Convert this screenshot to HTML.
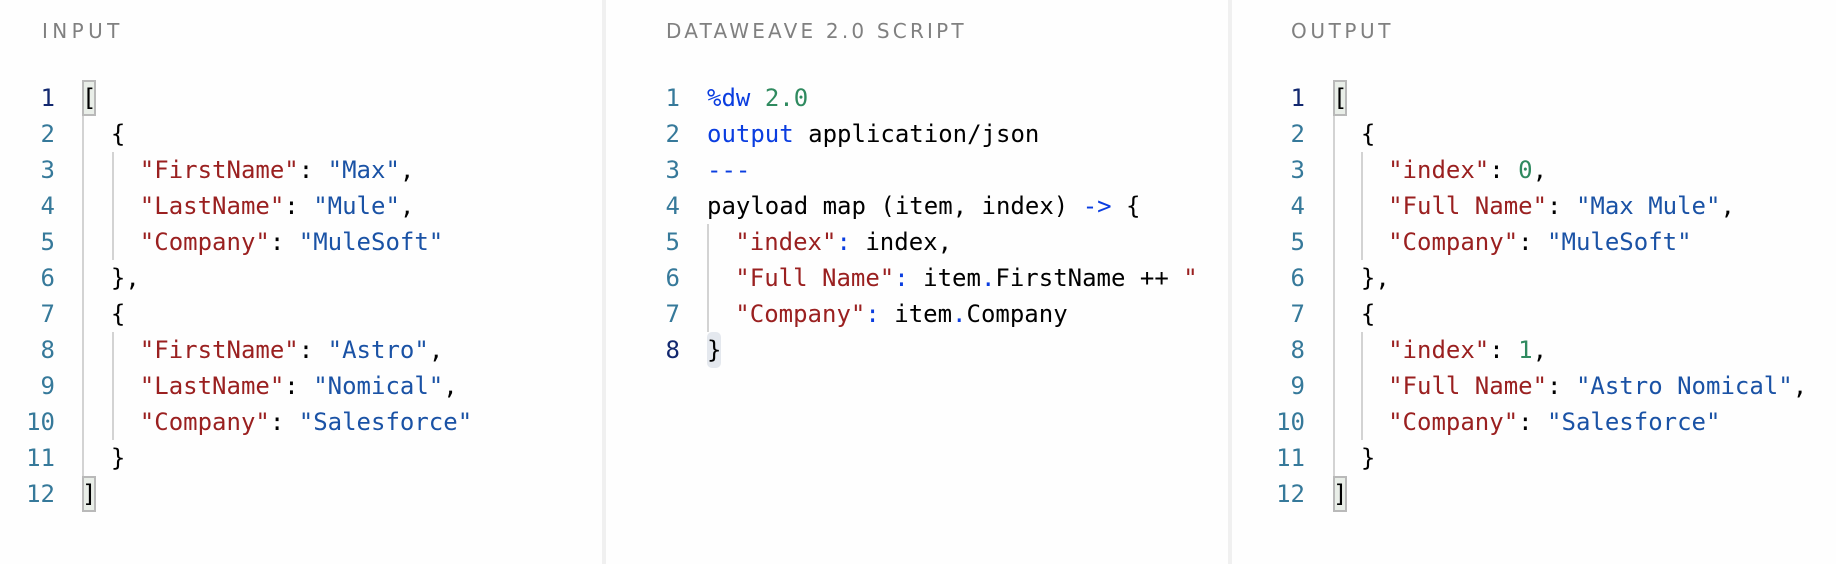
<!DOCTYPE html>
<html><head><meta charset="utf-8"><style>
html,body{margin:0;padding:0;width:1836px;height:564px;overflow:hidden;background:#fefefe}
#r{position:relative;width:1836px;height:564px;overflow:hidden}
.sep{position:absolute;top:0;height:564px;width:4px;background:#f0f0f0}
.h{position:absolute;top:18px;height:26px;font:20px/26px "DejaVu Sans",sans-serif;letter-spacing:3.2px;color:#808080;white-space:pre}
.n,.c{position:absolute;height:36px;line-height:36px;font-family:"DejaVu Sans Mono",monospace;font-size:24px;white-space:pre}
.n{width:60px;text-align:right;color:#36799a}
.a{color:#12286f}
.c{color:#000}
.g{position:absolute;width:2px;background:#d3d3d3}
.b{position:absolute;box-sizing:border-box;width:14px;height:36px;background:#e9eee8;border:2px solid #b9b9b9}
.w{position:absolute;width:14px;height:36px;background:#e4e8ee;border-radius:5px}
.k{color:#9a2020}.s{color:#1a52a5}.v{color:#0a3de0}.u{color:#2f8a5f}
</style></head><body><div id="r">
<div class="sep" style="left:602px"></div>
<div class="sep" style="left:1228px"></div>

<div class="h" style="left:42px;letter-spacing:4.4px">INPUT</div>
<div class="h" style="left:666px">DATAWEAVE 2.0 SCRIPT</div>
<div class="h" style="left:1291px;letter-spacing:3.6px">OUTPUT</div>

<!-- left -->
<div class="g" style="left:82px;top:116px;height:360px"></div>
<div class="g" style="left:112px;top:152px;height:108px"></div>
<div class="g" style="left:112px;top:332px;height:108px"></div>
<div class="b" style="left:82px;top:80px"></div>
<div class="b" style="left:82px;top:476px"></div>
<div class="n a" style="left:-5px;top:80px">1</div>
<div class="n" style="left:-5px;top:116px">2</div>
<div class="n" style="left:-5px;top:152px">3</div>
<div class="n" style="left:-5px;top:188px">4</div>
<div class="n" style="left:-5px;top:224px">5</div>
<div class="n" style="left:-5px;top:260px">6</div>
<div class="n" style="left:-5px;top:296px">7</div>
<div class="n" style="left:-5px;top:332px">8</div>
<div class="n" style="left:-5px;top:368px">9</div>
<div class="n" style="left:-5px;top:404px">10</div>
<div class="n" style="left:-5px;top:440px">11</div>
<div class="n" style="left:-5px;top:476px">12</div>
<div class="c" style="left:82px;top:80px">[</div>
<div class="c" style="left:82px;top:116px">  {</div>
<div class="c" style="left:82px;top:152px">    <span class="k">"FirstName"</span>: <span class="s">"Max"</span>,</div>
<div class="c" style="left:82px;top:188px">    <span class="k">"LastName"</span>: <span class="s">"Mule"</span>,</div>
<div class="c" style="left:82px;top:224px">    <span class="k">"Company"</span>: <span class="s">"MuleSoft"</span></div>
<div class="c" style="left:82px;top:260px">  },</div>
<div class="c" style="left:82px;top:296px">  {</div>
<div class="c" style="left:82px;top:332px">    <span class="k">"FirstName"</span>: <span class="s">"Astro"</span>,</div>
<div class="c" style="left:82px;top:368px">    <span class="k">"LastName"</span>: <span class="s">"Nomical"</span>,</div>
<div class="c" style="left:82px;top:404px">    <span class="k">"Company"</span>: <span class="s">"Salesforce"</span></div>
<div class="c" style="left:82px;top:440px">  }</div>
<div class="c" style="left:82px;top:476px">]</div>

<!-- middle -->
<div class="g" style="left:707px;top:224px;height:108px"></div>
<div class="w" style="left:707px;top:332px"></div>
<div class="n" style="left:620px;top:80px">1</div>
<div class="n" style="left:620px;top:116px">2</div>
<div class="n" style="left:620px;top:152px">3</div>
<div class="n" style="left:620px;top:188px">4</div>
<div class="n" style="left:620px;top:224px">5</div>
<div class="n" style="left:620px;top:260px">6</div>
<div class="n" style="left:620px;top:296px">7</div>
<div class="n a" style="left:620px;top:332px">8</div>
<div class="c" style="left:707px;top:80px"><span class="v">%dw</span> <span class="u">2.0</span></div>
<div class="c" style="left:707px;top:116px"><span class="v">output</span> application/json</div>
<div class="c" style="left:707px;top:152px"><span class="v">---</span></div>
<div class="c" style="left:707px;top:188px">payload map (item, index) <span class="v">-&gt;</span> {</div>
<div class="c" style="left:706.4px;top:224px">  <span class="k">"index"</span><span class="v">:</span> index,</div>
<div class="c" style="left:706.4px;top:260px">  <span class="k">"Full Name"</span><span class="v">:</span> item<span class="v">.</span>FirstName ++ <span class="k">"</span></div>
<div class="c" style="left:706.4px;top:296px">  <span class="k">"Company"</span><span class="v">:</span> item<span class="v">.</span>Company</div>
<div class="c" style="left:707px;top:332px">}</div>

<!-- right -->
<div class="g" style="left:1333px;top:116px;height:360px"></div>
<div class="g" style="left:1361px;top:152px;height:108px"></div>
<div class="g" style="left:1361px;top:332px;height:108px"></div>
<div class="b" style="left:1333px;top:80px"></div>
<div class="b" style="left:1333px;top:476px"></div>
<div class="n a" style="left:1245px;top:80px">1</div>
<div class="n" style="left:1245px;top:116px">2</div>
<div class="n" style="left:1245px;top:152px">3</div>
<div class="n" style="left:1245px;top:188px">4</div>
<div class="n" style="left:1245px;top:224px">5</div>
<div class="n" style="left:1245px;top:260px">6</div>
<div class="n" style="left:1245px;top:296px">7</div>
<div class="n" style="left:1245px;top:332px">8</div>
<div class="n" style="left:1245px;top:368px">9</div>
<div class="n" style="left:1245px;top:404px">10</div>
<div class="n" style="left:1245px;top:440px">11</div>
<div class="n" style="left:1245px;top:476px">12</div>
<div class="c" style="left:1333px;top:80px">[</div>
<div class="c" style="left:1332px;top:116px">  {</div>
<div class="c" style="left:1330.3px;top:152px">    <span class="k">"index"</span>: <span class="u">0</span>,</div>
<div class="c" style="left:1330.3px;top:188px">    <span class="k">"Full Name"</span>: <span class="s">"Max Mule"</span>,</div>
<div class="c" style="left:1330.3px;top:224px">    <span class="k">"Company"</span>: <span class="s">"MuleSoft"</span></div>
<div class="c" style="left:1332px;top:260px">  },</div>
<div class="c" style="left:1332px;top:296px">  {</div>
<div class="c" style="left:1330.3px;top:332px">    <span class="k">"index"</span>: <span class="u">1</span>,</div>
<div class="c" style="left:1330.3px;top:368px">    <span class="k">"Full Name"</span>: <span class="s">"Astro Nomical"</span>,</div>
<div class="c" style="left:1330.3px;top:404px">    <span class="k">"Company"</span>: <span class="s">"Salesforce"</span></div>
<div class="c" style="left:1332px;top:440px">  }</div>
<div class="c" style="left:1333px;top:476px">]</div>
</div></body></html>
